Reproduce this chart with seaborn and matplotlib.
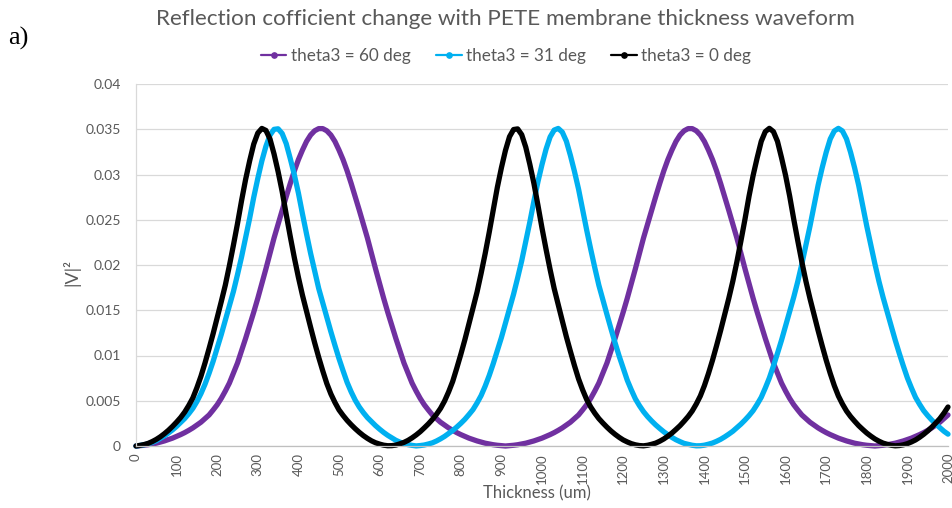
import numpy as np
import pandas as pd
import matplotlib
matplotlib.use("Agg")
import matplotlib.pyplot as plt
from matplotlib.lines import Line2D
import seaborn as sns

# Membrane thickness grid (um)
thickness = np.arange(0, 2001, 10)

# |V|^2 for each incidence angle, sampled every 10 um (one row = 100 um)
v2_theta60 = [
    0, .00004, .00008, .00014, .00022, .00031, .00043, .00056, .00071, .00087,
    .00106, .00126, .00148, .00173, .00200, .00231, .00263, .00303, .00343, .00398,
    .00456, .00526, .00607, .00695, .00806, .00917, .01053, .01189, .01332, .01479,
    .01632, .01794, .01958, .02128, .02298, .02450, .02605, .02755, .02901, .03040,
    .03164, .03270, .03365, .03436, .03483, .03507, .03507, .03483, .03436, .03365,
    .03270, .03164, .03040, .02901, .02755, .02605, .02450, .02298, .02128, .01958,
    .01794, .01632, .01479, .01332, .01189, .01053, .00917, .00806, .00695, .00607,
    .00526, .00456, .00398, .00343, .00303, .00263, .00231, .00200, .00173, .00148,
    .00126, .00106, .00087, .00071, .00056, .00043, .00031, .00022, .00014, .00008,
    .00004, 0, .00004, .00008, .00014, .00022, .00031, .00043, .00056, .00071,
    .00087, .00106, .00126, .00148, .00173, .00200, .00231, .00263, .00303, .00343,
    .00398, .00456, .00526, .00607, .00695, .00806, .00917, .01053, .01189, .01332,
    .01479, .01632, .01794, .01958, .02128, .02298, .02450, .02605, .02755, .02901,
    .03040, .03164, .03270, .03365, .03436, .03483, .03507, .03507, .03483, .03436,
    .03365, .03270, .03164, .03040, .02901, .02755, .02605, .02450, .02298, .02128,
    .01958, .01794, .01632, .01479, .01332, .01189, .01053, .00917, .00806, .00695,
    .00607, .00526, .00456, .00398, .00343, .00303, .00263, .00231, .00200, .00173,
    .00148, .00126, .00106, .00087, .00071, .00056, .00043, .00031, .00022, .00014,
    .00008, .00004, 0, .00004, .00008, .00014, .00022, .00031, .00043, .00056,
    .00071, .00087, .00106, .00126, .00148, .00173, .00200, .00231, .00263, .00303,
    .00343,
]
v2_theta31 = [
    0, .00006, .00013, .00025, .00040, .00059, .00085, .00112, .00144, .00178,
    .00217, .00260, .00304, .00357, .00416, .00491, .00579, .00683, .00804, .00936,
    .01082, .01231, .01390, .01547, .01708, .01894, .02089, .02302, .02517, .02748,
    .02957, .03150, .03312, .03435, .03499, .03505, .03453, .03341, .03175, .02997,
    .02795, .02565, .02344, .02130, .01933, .01741, .01581, .01420, .01263, .01112,
    .00966, .00832, .00703, .00598, .00506, .00431, .00369, .00314, .00269, .00225,
    .00186, .00150, .00118, .00090, .00063, .00043, .00027, .00015, .00007, .00001,
    .00005, .00011, .00022, .00035, .00055, .00079, .00106, .00138, .00171, .00209,
    .00250, .00295, .00347, .00402, .00475, .00557, .00661, .00779, .00911, .01054,
    .01198, .01357, .01517, .01678, .01858, .02046, .02258, .02474, .02704, .02920,
    .03110, .03280, .03415, .03491, .03509, .03468, .03368, .03210, .03033, .02839,
    .02613, .02387, .02174, .01971, .01777, .01614, .01453, .01294, .01140, .00994,
    .00859, .00727, .00620, .00521, .00446, .00380, .00325, .00277, .00233, .00194,
    .00157, .00125, .00095, .00069, .00048, .00029, .00018, .00008, .00002, .00003,
    .00009, .00020, .00033, .00052, .00074, .00101, .00131, .00163, .00202, .00242,
    .00287, .00336, .00391, .00461, .00538, .00641, .00752, .00884, .01024, .01170,
    .01327, .01484, .01644, .01818, .02011, .02218, .02428, .02656, .02880, .03073,
    .03246, .03393, .03481, .03510, .03481, .03393, .03246, .03073, .02880, .02656,
    .02428, .02218, .02011, .01818, .01644, .01484, .01327, .01170, .01024, .00884,
    .00752, .00641, .00538, .00461, .00391, .00336, .00287, .00242, .00202, .00163,
    .00131,
]
v2_theta0 = [
    0, .00007, .00016, .00029, .00049, .00073, .00102, .00136, .00174, .00217,
    .00264, .00315, .00375, .00448, .00531, .00644, .00771, .00918, .01077, .01242,
    .01418, .01595, .01778, .01992, .02220, .02458, .02711, .02946, .03152, .03336,
    .03458, .03509, .03487, .03393, .03227, .03032, .02812, .02558, .02314, .02080,
    .01864, .01666, .01488, .01313, .01141, .00980, .00830, .00690, .00575, .00481,
    .00399, .00338, .00283, .00235, .00191, .00151, .00115, .00084, .00057, .00036,
    .00021, .00009, .00003, .00004, .00010, .00024, .00040, .00062, .00090, .00122,
    .00158, .00200, .00244, .00293, .00350, .00415, .00497, .00598, .00713, .00859,
    .01012, .01174, .01348, .01524, .01701, .01907, .02125, .02361, .02609, .02858,
    .03074, .03266, .03418, .03497, .03504, .03440, .03302, .03113, .02903, .02660,
    .02408, .02173, .01949, .01740, .01559, .01383, .01207, .01045, .00888, .00742,
    .00621, .00514, .00431, .00363, .00303, .00254, .00208, .00166, .00129, .00096,
    .00067, .00045, .00026, .00013, .00005, .00002, .00008, .00019, .00032, .00053,
    .00078, .00109, .00143, .00183, .00225, .00274, .00326, .00387, .00464, .00553,
    .00667, .00801, .00948, .01109, .01277, .01453, .01630, .01821, .02035, .02267,
    .02507, .02762, .02989, .03185, .03366, .03474, .03510, .03474, .03366, .03185,
    .02989, .02762, .02507, .02267, .02035, .01821, .01630, .01453, .01277, .01109,
    .00948, .00801, .00667, .00553, .00464, .00387, .00326, .00274, .00225, .00183,
    .00143, .00109, .00078, .00053, .00032, .00019, .00008, .00002, .00005, .00013,
    .00026, .00045, .00067, .00096, .00129, .00166, .00208, .00254, .00303, .00363,
    .00431,
]

series_names = ["theta3 = 60 deg", "theta3 = 31 deg", "theta3 = 0 deg"]
series_colors = ["#7030A0", "#00B0F0", "#000000"]

x_ticks = list(range(0, 2001, 100))
x_tick_labels = [str(v) for v in x_ticks]
y_ticks = [0, 0.005, 0.01, 0.015, 0.02, 0.025, 0.03, 0.035, 0.04]
y_tick_labels = ["0", "0.005", "0.01", "0.015", "0.02", "0.025", "0.03", "0.035", "0.04"]

frames = []
for name, vals in zip(series_names, [v2_theta60, v2_theta31, v2_theta0]):
    frames.append(pd.DataFrame({"Thickness": thickness, "V2": vals, "series": name}))
df = pd.concat(frames, ignore_index=True)

sns.set_theme(style="white")
plt.rcParams["font.family"] = ["Lato", "DejaVu Sans"]

text_gray = "#595959"

fig = plt.figure(figsize=(9.53, 5.08), dpi=100)
ax = fig.add_axes([136 / 953, 1 - 446 / 508, 812 / 953, 362 / 508])

sns.lineplot(
    data=df, x="Thickness", y="V2", hue="series", hue_order=series_names,
    palette=dict(zip(series_names, series_colors)), linewidth=3.8,
    legend=False, ax=ax, clip_on=False, sort=False,
    solid_joinstyle="round", solid_capstyle="round",
)

ax.set_xlim(0, 2000)
ax.set_ylim(0, 0.04)
ax.set_xticks(x_ticks)
ax.set_xticklabels(x_tick_labels, rotation=90, fontsize=9.5, color=text_gray)
ax.set_yticks(y_ticks)
ax.set_yticklabels(y_tick_labels, fontsize=10, color=text_gray)
ax.tick_params(axis="both", length=0)
ax.tick_params(axis="x", pad=5)
ax.tick_params(axis="y", pad=11)

ax.yaxis.grid(True, color="#D9D9D9", linewidth=0.9)
ax.xaxis.grid(False)
ax.set_axisbelow(True)
for side in ["top", "right"]:
    ax.spines[side].set_visible(False)
ax.spines["left"].set_color("#D9D9D9")
ax.spines["left"].set_linewidth(0.9)
ax.spines["bottom"].set_color("#BFBFBF")
ax.spines["bottom"].set_linewidth(0.9)

ax.set_xlabel("Thickness (um)", fontsize=12, color=text_gray)
ax.xaxis.set_label_coords(0.494, -0.108)
ax.set_ylabel("|V|\u00b2", fontsize=13, color=text_gray)
ax.yaxis.set_label_coords(-0.069, 0.48)

fig.text(0.530, 1 - 19 / 508, "Reflection cofficient change with PETE membrane thickness waveform",
         ha="center", va="center", fontsize=16.2, color=text_gray)
fig.text(8 / 953, 1 - 38 / 508, "a)", ha="left", va="center", fontsize=19,
         family=["Liberation Serif", "DejaVu Serif"], color="black")

handles = [
    Line2D([0], [0], color=c, lw=1.6, marker="o", markersize=3.8)
    for c in series_colors
]
leg = fig.legend(
    handles, series_names, loc="center", bbox_to_anchor=(0.531, 1 - 56 / 508),
    ncol=3, frameon=False, fontsize=12.3, handlelength=1.5, handletextpad=0.25,
    columnspacing=1.5,
)
for t in leg.get_texts():
    t.set_color(text_gray)

fig.savefig("out.png", dpi=100)
